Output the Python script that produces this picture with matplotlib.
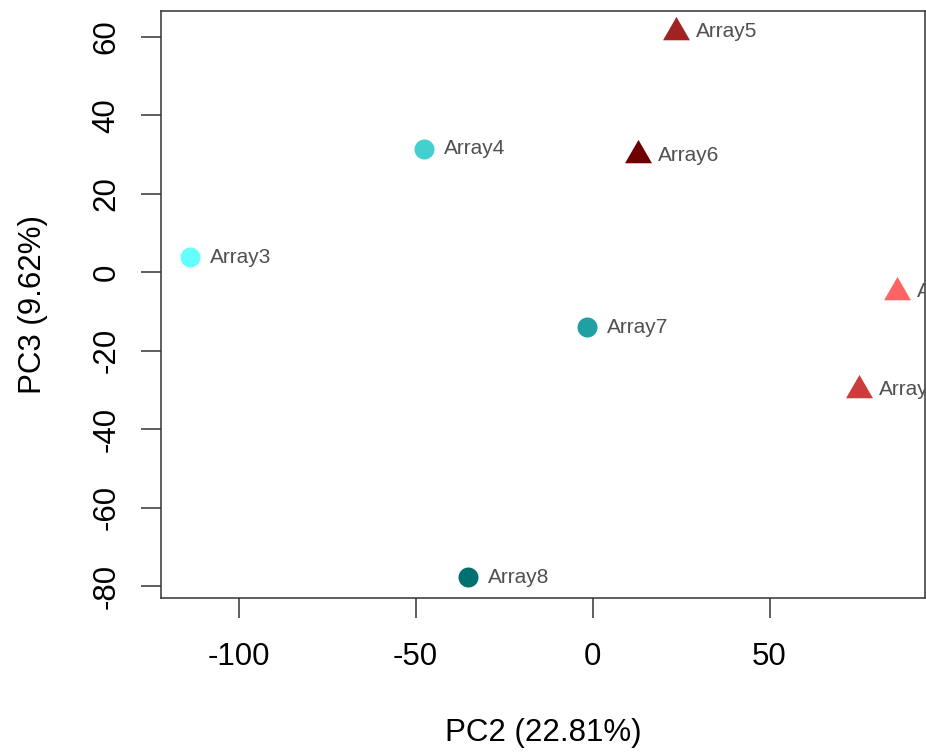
import numpy as np
import matplotlib
matplotlib.use("Agg")
from matplotlib import pyplot as plt

plt.rcParams['font.family'] = ['Liberation Sans', 'DejaVu Sans']

# PCA scores
names = ["Array1", "Array2", "Array3", "Array4", "Array5", "Array6", "Array7", "Array8"]
pc2 = [86.0, 75.2, -113.7, -47.6, 23.6, 12.9, -1.6, -35.2]
pc3 = [-5.0, -30.0, 3.8, 31.5, 61.3, 29.8, -14.1, -77.8]
groups = ["tri", "tri", "dot", "dot", "tri", "tri", "dot", "dot"]
colors = ["#FF6464", "#CC3C3C", "#66FFFF", "#45D0D0", "#A02222", "#6E0000", "#20A0A0", "#007070"]

xticks = [-100, -50, 0, 50]
yticks = [-80, -60, -40, -20, 0, 20, 40, 60]

# R style pch 17 triangle (centroid on the point)
tri = [(0, 1.5551), (1.3468, -0.7776), (-1.3468, -0.7776), (0, 1.5551)]

fig = plt.figure(figsize=(9.26, 7.53), dpi=100)
ax = fig.add_axes([161/926, 1 - 598/753, 764/926, (598 - 10.7)/753])

for x, y, g, c, n in zip(pc2, pc3, groups, colors, names):
    if g == "tri":
        ax.plot(x, y, marker=tri, ms=22.4, color=c, mec='none', ls='none')
    else:
        ax.plot(x, y, marker='o', ms=14.4, color=c, mec='none', ls='none')
    # labels are clipped at the box like in the original R plot
    ax.annotate(n, (x, y), xytext=(14.4, 0), textcoords='offset points',
                ha='left', va='center', fontsize=15, color='#505050',
                annotation_clip=False, clip_on=True)

ax.set_xlim(-121.9, 93.9)
ax.set_ylim(-83.06, 66.63)
ax.set_xticks(xticks)
ax.set_yticks(yticks)
ax.set_xticklabels([str(t) for t in xticks])
ax.set_yticklabels([str(t) for t in yticks], rotation=90, va='center')
ax.tick_params(length=14.4, width=1.1, color='#333333', labelsize=22.5)
ax.tick_params(axis='x', pad=17.5)
ax.tick_params(axis='y', pad=14)
for s in ax.spines.values():
    s.set_color('#333333')
    s.set_linewidth(1.1)

ax.set_xlabel("PC2 (22.81%)", fontsize=22.5, labelpad=33)
ax.set_ylabel("PC3 (9.62%)", fontsize=22.5, labelpad=31)

fig.savefig("out.png", dpi=100)
